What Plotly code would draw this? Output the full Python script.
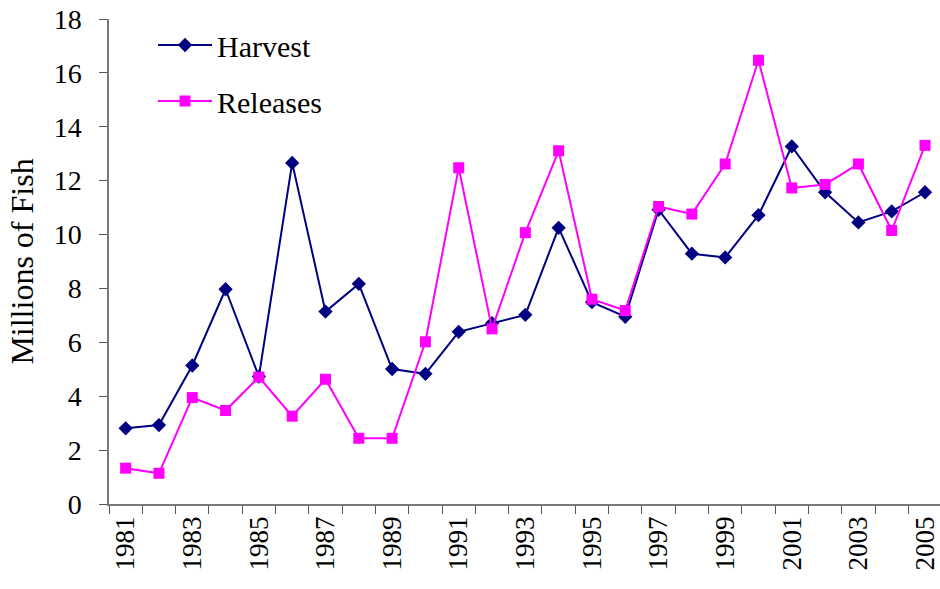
import plotly.graph_objects as go

years = [str(y) for y in range(1981, 2006)]
harvest = [2.81, 2.93, 5.14, 7.97, 4.73, 12.66, 7.14, 8.17, 5.01, 4.83,
           6.39, 6.71, 7.02, 10.25, 7.49, 6.95, 10.92, 9.29, 9.15, 10.72,
           13.27, 11.57, 10.45, 10.86, 11.57]
releases = [1.33, 1.14, 3.95, 3.47, 4.71, 3.26, 4.63, 2.44, 2.44, 6.02,
            12.48, 6.50, 10.07, 13.11, 7.60, 7.18, 11.04, 10.76, 12.62, 16.47,
            11.73, 11.86, 12.62, 10.15, 13.31]
tick_text = [y if int(y) % 2 == 1 else "" for y in years]
y_ticks = list(range(0, 19, 2))

FONT = "Liberation Serif, Times New Roman, serif"

fig = go.Figure()
fig.add_trace(go.Scatter(
    x=years, y=harvest, name="Harvest", mode="lines+markers", legendgroup="h",
    line=dict(color="#000080", width=2),
    marker=dict(symbol="diamond", size=11, color="#000080"),
))
fig.add_trace(go.Scatter(
    x=years, y=releases, name="Releases", mode="lines+markers", legendgroup="r",
    line=dict(color="#FF00FF", width=2),
    marker=dict(symbol="square", size=11, color="#FF00FF"),
))

fig.update_layout(
    width=940, height=589,
    margin=dict(l=109, r=0, t=19, b=85, autoexpand=False),
    paper_bgcolor="white", plot_bgcolor="white",
    font=dict(family=FONT, size=28, color="black"),
    showlegend=True,
    legend=dict(x=0.053, y=1.0, xanchor="left", yanchor="top",
                itemwidth=54,
                font=dict(family=FONT, size=30, color="black"),
                bgcolor="rgba(0,0,0,0)", tracegroupgap=14),
    xaxis=dict(
        type="category", range=[-0.5, 24.45], automargin=False,
        tickmode="array", tickvals=years, ticktext=tick_text,
        tickson="boundaries", ticks="outside", ticklen=8, tickcolor="#555",
        tickangle=-90, showgrid=False, zeroline=False,
        showline=True, linecolor="#777", linewidth=1.5,
        tickfont=dict(family=FONT, size=27, color="black"),
    ),
    yaxis=dict(
        range=[0, 18], tickmode="array", tickvals=y_ticks, automargin=False,
        ticks="outside", ticklen=8, tickcolor="#555",
        showgrid=False, zeroline=False,
        showline=True, linecolor="#777", linewidth=1.5,
        ticklabelstandoff=12,
        tickfont=dict(family=FONT, size=28, color="black"),
        title=dict(text="Millions of Fish", font=dict(family=FONT, size=32, color="black"), standoff=10),
    ),
)

fig.write_html("out.html",
               config={"displayModeBar": False},
               post_script="document.body.style.margin='0';document.body.style.overflow='hidden';")
